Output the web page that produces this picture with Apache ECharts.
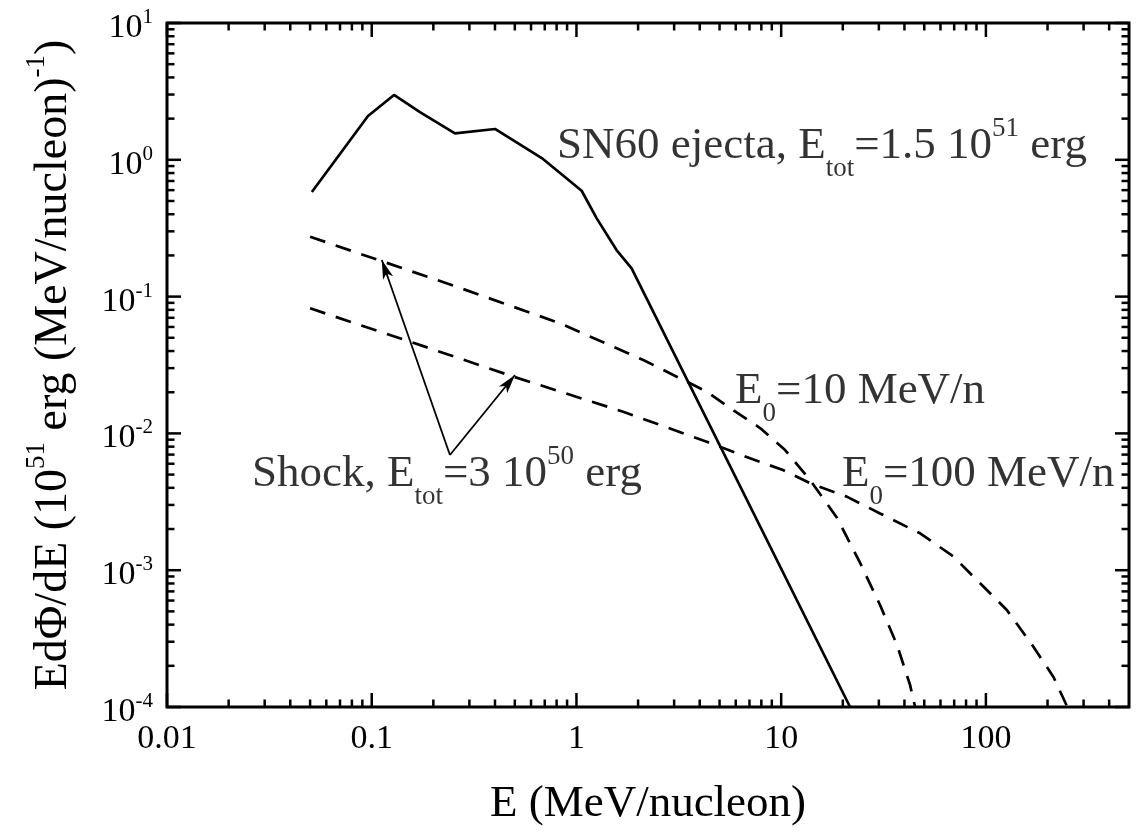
<!DOCTYPE html>
<html><head><meta charset="utf-8">
<script src="https://cdn.jsdelivr.net/npm/echarts@6/dist/echarts.min.js"></script>
<style>html,body{margin:0;padding:0;background:#fff}#c{width:1136px;height:832px}</style>
</head><body><div id="c"></div>
<script>
const FONT = "'Liberation Serif','Times New Roman',serif";

// E (MeV/nucleon) , E dPhi/dE
const sn60Ejecta = [[0.051,0.581],[0.0959,2.09],[0.1285,2.98],[0.172,2.23],[0.255,1.56],[0.40,1.68],[0.677,1.03],[1.06,0.594],[1.256,0.373],[1.57,0.219],[1.86,0.161],[21.7,0.0001]];
const shockE0_10 = [[0.05,0.274],[0.26,0.118],[0.832,0.0638],[2.12,0.0344],[4.33,0.0202],[5.63,0.01533],[7.89,0.01095],[10.45,0.00756],[13.84,0.00456],[18.76,0.00241],[24.3,0.00113],[30.4,0.000557],[36.8,0.000284],[42.6,0.000145],[45.1,0.0001]];
const shockE0_100 = [[0.05,0.0821],[0.154,0.0468],[0.492,0.026],[1.69,0.0144],[4.33,0.00869],[7.05,0.00658],[10.2,0.0054],[13.84,0.00432],[20.9,0.00345],[30.4,0.0026],[47.7,0.00186],[69.4,0.00126],[93.7,0.000802],[126.5,0.000512],[170.6,0.000276],[213.7,0.000166],[250,0.0001]];

const xTickLabels = ['0.01','0.1','1','10','100'];
const xMajorTicks = [0.01,0.1,1,10,100];
const xMinorTicks = [0.02,0.03,0.04,0.05,0.06,0.07,0.08,0.09,0.2,0.3,0.4,0.5,0.6,0.7,0.8,0.9,2,3,4,5,6,7,8,9,20,30,40,50,60,70,80,90,200,300,400];
const yTickExponents = ['-4','-3','-2','-1','0','1'];
const yMajorTicks = [1e-4,1e-3,1e-2,1e-1,1,10];
const yMinorTicks = [2e-4,3e-4,4e-4,5e-4,6e-4,7e-4,8e-4,9e-4,2e-3,3e-3,4e-3,5e-3,6e-3,7e-3,8e-3,9e-3,0.02,0.03,0.04,0.05,0.06,0.07,0.08,0.09,0.2,0.3,0.4,0.5,0.6,0.7,0.8,0.9,2,3,4,5,6,7,8,9];

const annotationText = [
  'SN60 ejecta, E{sub|tot}=1.5 10{sup|51} erg',
  'Shock, E{sub|tot}=3 10{sup|50} erg',
  'E{sub|0}=10 MeV/n',
  'E{sub|0}=100 MeV/n'
];
const annotationAt = [[0.804,1.25],[0.026,0.005],[5.95,0.0202],[19.8,0.005]];
const arrowFrom = [0.241,0.00695];
const arrowTips = [[0.112,0.185],[0.501,0.0267]];

const X_MIN = 0.01, X_MAX = 500, Y_MIN = 1e-4, Y_MAX = 10;

const tickData = [];
xMajorTicks.forEach(v => tickData.push([v, Y_MIN, 0, 1]));
xMinorTicks.forEach(v => tickData.push([v, Y_MIN, 0, 0]));
yMajorTicks.forEach(v => tickData.push([X_MIN, v, 1, 1]));
yMinorTicks.forEach(v => tickData.push([X_MIN, v, 1, 0]));

const supStyle = {fontFamily: FONT, fontSize: 27, height: 21, lineHeight: 21, verticalAlign: 'top', color: '#000'};
const subStyle = {fontFamily: FONT, fontSize: 27, height: 11, lineHeight: 11, verticalAlign: 'bottom', color: '#000'};

function isDecade(v) { const e = Math.log10(v); return Math.abs(e - Math.round(e)) < 1e-6; }

const chart = echarts.init(document.getElementById('c'), null, {renderer: 'canvas'});
chart.setOption({
  animation: false,
  backgroundColor: '#fff',
  grid: {left: 167, right: 7, top: 23, bottom: 125, show: true, borderColor: '#000', borderWidth: 3, backgroundColor: 'rgba(0,0,0,0)', containLabel: false, outerBoundsMode: 'none'},
  xAxis: {
    type: 'log', logBase: 10, min: X_MIN, max: X_MAX,
    axisLine: {show: false}, axisTick: {show: false}, splitLine: {show: false}, minorTick: {show: false},
    axisLabel: {
      margin: 12, color: '#000', fontFamily: FONT, fontSize: 34, lineHeight: 40, hideOverlap: false,
      formatter: v => { if (!isDecade(v)) return ''; const i = xMajorTicks.findIndex(t => Math.abs(Math.log10(t) - Math.log10(v)) < 1e-6); return i >= 0 ? xTickLabels[i] : ''; }
    },
    name: 'E (MeV/nucleon)', nameLocation: 'middle', nameGap: 72,
    nameTextStyle: {fontFamily: FONT, fontSize: 45, lineHeight: 50, color: '#000'}
  },
  yAxis: {
    type: 'log', logBase: 10, min: Y_MIN, max: Y_MAX,
    axisLine: {show: false}, axisTick: {show: false}, splitLine: {show: false}, minorTick: {show: false},
    axisLabel: {
      margin: 14, color: '#000', padding: [10, 0, 0, 0], hideOverlap: false,
      formatter: v => { const i = yMajorTicks.findIndex(t => Math.abs(Math.log10(t) - Math.log10(v)) < 1e-6); return i >= 0 ? '{b|10}{s|' + yTickExponents[i] + '}' : ''; },
      rich: {
        b: {fontFamily: FONT, fontSize: 34, lineHeight: 40, color: '#000'},
        s: {fontFamily: FONT, fontSize: 21, height: 19, lineHeight: 19, verticalAlign: 'top', color: '#000'}
      }
    },
    name: 'EdΦ/dE (10{sup|51} erg (MeV/nucleon){sup|-1})', nameLocation: 'middle', nameRotate: 90, nameGap: 85,
    nameTextStyle: {fontFamily: FONT, fontSize: 46, lineHeight: 56, color: '#000', rich: {sup: supStyle}}
  },
  series: [
    {type: 'line', name: 'SN60 ejecta', data: sn60Ejecta, showSymbol: false, symbol: 'none', silent: true, z: 3,
     lineStyle: {color: '#000', width: 2.7, type: 'solid'}},
    {type: 'line', name: 'Shock E0=10', data: shockE0_10, showSymbol: false, symbol: 'none', silent: true, z: 3,
     lineStyle: {color: '#000', width: 2.7, type: [16, 11]}},
    {type: 'line', name: 'Shock E0=100', data: shockE0_100, showSymbol: false, symbol: 'none', silent: true, z: 3,
     lineStyle: {color: '#000', width: 2.7, type: [16, 11]}},
    {type: 'lines', coordinateSystem: 'cartesian2d', silent: true, z: 4,
     data: arrowTips.map(t => ({coords: [arrowFrom, t]})),
     symbol: ['none', 'arrow'], symbolSize: [1, [8, 19]],
     lineStyle: {color: '#000', width: 1.8, opacity: 1, curveness: 0}},
    {type: 'scatter', silent: true, z: 5, symbol: 'circle', symbolSize: 0.01, itemStyle: {color: 'rgba(0,0,0,0)'},
     data: annotationAt.map((c, i) => ({value: c, label: {formatter: annotationText[i]}})),
     label: {show: true, position: 'right', distance: 0, fontFamily: FONT, fontSize: 45, lineHeight: 56, color: '#000',
             rich: {sub: subStyle, sup: supStyle}}},
    {type: 'custom', silent: true, z: 6, clip: false,
     data: tickData,
     encode: {x: 0, y: 1},
     renderItem: (params, api) => {
       const cs = params.coordSys;
       const kind = api.value(2), major = api.value(3);
       const len = major ? 14 : 7.5;
       const p = api.coord([api.value(0), api.value(1)]);
       const st = {stroke: '#000', lineWidth: 2.5};
       if (kind === 0) {
         return {type: 'group', children: [
           {type: 'line', shape: {x1: p[0], y1: cs.y + cs.height, x2: p[0], y2: cs.y + cs.height - len}, style: st},
           {type: 'line', shape: {x1: p[0], y1: cs.y, x2: p[0], y2: cs.y + len}, style: st}
         ]};
       }
       return {type: 'group', children: [
         {type: 'line', shape: {x1: cs.x, y1: p[1], x2: cs.x + len, y2: p[1]}, style: st},
         {type: 'line', shape: {x1: cs.x + cs.width, y1: p[1], x2: cs.x + cs.width - len, y2: p[1]}, style: st}
       ]};
     }}
  ]
});
</script></body></html>
